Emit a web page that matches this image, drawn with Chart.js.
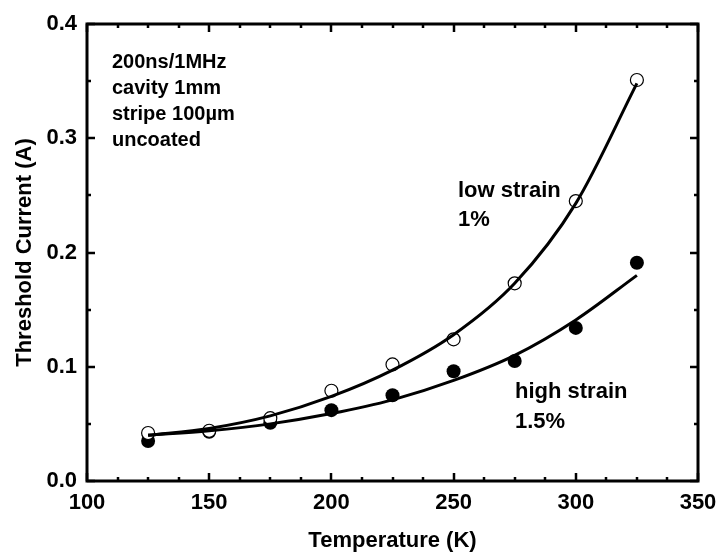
<!DOCTYPE html>
<html>
<head>
<meta charset="utf-8">
<script src="https://cdn.jsdelivr.net/npm/chart.js@4.4.1/dist/chart.umd.min.js"></script>
<style>
  html, body { margin: 0; padding: 0; background: #fff; }
  #wrap { width: 720px; height: 554px; position: relative; }
</style>
</head>
<body>
<div id="wrap"><canvas id="thresholdChart"></canvas></div>
<script>
// Measured threshold currents (A) vs. temperature (K)
const temperatures = [125, 150, 175, 200, 225, 250, 275, 300, 325];
const lowStrain = [0.042, 0.044, 0.055, 0.079, 0.102, 0.124, 0.173, 0.245, 0.351];
const highStrain = [0.035, 0.043, 0.051, 0.062, 0.075, 0.096, 0.105, 0.134, 0.191];

// Fitted curves through the same temperatures
const lowStrainFit = [0.040, 0.046, 0.057, 0.074, 0.097, 0.128, 0.173, 0.243, 0.348];
const highStrainFit = [0.040, 0.044, 0.050, 0.059, 0.071, 0.088, 0.110, 0.141, 0.180];

// Axis ranges and tick spacing
const xRange = [100, 350];
const yRange = [0, 0.4];
const xMajor = 50, xMinor = 12.5;
const yMajor = 0.1, yMinor = 0.05;

const conditions = ['200ns/1MHz', 'cavity 1mm', 'stripe 100\u00b5m', 'uncoated'];
const lowLabel = ['low strain', '1%'];
const highLabel = ['high strain', '1.5%'];

const FONT = '"Liberation Sans", Arial, Helvetica, sans-serif';

function points(ys) {
    return temperatures.map((t, i) => ({ x: t, y: ys[i] }));
}

// Box frame with inward ticks on all four sides, plus the text notes
const framePlugin = {
    id: 'frame',
    afterDraw(chart) {
        const ctx = chart.ctx;
        const a = chart.chartArea;
        const xs = chart.scales.x, ys = chart.scales.y;
        ctx.save();
        ctx.strokeStyle = '#000';
        ctx.lineCap = 'butt';

        ctx.lineWidth = 2.5;
        for (let v = xRange[0]; v <= xRange[1] + 1e-9; v += xMinor) {
            const px = Math.round(xs.getPixelForValue(v));
            const len = Math.abs(v % xMajor) < 1e-9 ? 8 : 4;
            ctx.beginPath();
            ctx.moveTo(px, a.bottom); ctx.lineTo(px, a.bottom - len);
            ctx.moveTo(px, a.top); ctx.lineTo(px, a.top + len);
            ctx.stroke();
        }
        for (let v = yRange[0]; v <= yRange[1] + 1e-9; v += yMinor) {
            const py = Math.round(ys.getPixelForValue(v));
            const major = Math.abs(v / yMajor - Math.round(v / yMajor)) < 1e-6;
            const len = major ? 8 : 4;
            ctx.beginPath();
            ctx.moveTo(a.left, py); ctx.lineTo(a.left + len, py);
            ctx.moveTo(a.right, py); ctx.lineTo(a.right - len, py);
            ctx.stroke();
        }

        ctx.lineWidth = 3;
        ctx.strokeRect(a.left, a.top, a.right - a.left, a.bottom - a.top);

        ctx.fillStyle = '#000';
        ctx.textAlign = 'left';
        ctx.textBaseline = 'alphabetic';
        ctx.font = 'bold 20px ' + FONT;
        conditions.forEach((s, i) => ctx.fillText(s, 112, 68 + i * 26));

        ctx.font = 'bold 22px ' + FONT;
        lowLabel.forEach((s, i) => ctx.fillText(s, 458, 197 + i * 29));
        highLabel.forEach((s, i) => ctx.fillText(s, 515, 398 + i * 30));
        ctx.restore();
    }
};

const ctx = document.getElementById('thresholdChart').getContext('2d');
new Chart(ctx, {
    type: 'scatter',
    data: {
        datasets: [
            {
                label: 'low strain fit',
                data: points(lowStrainFit),
                showLine: true,
                cubicInterpolationMode: 'monotone',
                borderColor: '#000',
                borderWidth: 3,
                pointRadius: 0,
                order: 0
            },
            {
                label: 'high strain fit',
                data: points(highStrainFit),
                showLine: true,
                cubicInterpolationMode: 'monotone',
                borderColor: '#000',
                borderWidth: 3,
                pointRadius: 0,
                order: 0
            },
            {
                label: 'low strain 1%',
                data: points(lowStrain),
                pointStyle: 'circle',
                pointRadius: 6.5,
                backgroundColor: '#fff',
                borderColor: '#000',
                borderWidth: 1.2,
                order: 1
            },
            {
                label: 'high strain 1.5%',
                data: points(highStrain),
                pointStyle: 'circle',
                pointRadius: 7,
                backgroundColor: '#000',
                borderColor: '#000',
                borderWidth: 0,
                order: 2
            }
        ]
    },
    options: {
        responsive: true,
        maintainAspectRatio: false,
        animation: false,
        layout: { padding: { top: 24, right: 22, left: 0, bottom: 0 } },
        plugins: {
            legend: { display: false },
            tooltip: { enabled: false }
        },
        scales: {
            x: {
                type: 'linear',
                min: xRange[0],
                max: xRange[1],
                grid: { display: false, drawTicks: false },
                border: { display: false },
                ticks: {
                    stepSize: xMajor,
                    padding: 11,
                    color: '#000',
                    maxRotation: 0,
                    font: { family: FONT, size: 22, weight: 'bold', lineHeight: 1 }
                },
                title: {
                    display: true,
                    text: 'Temperature (K)',
                    color: '#000',
                    padding: { top: 0, bottom: 2 },
                    font: { family: FONT, size: 22, weight: 'bold', lineHeight: 1 }
                },
                afterFit(scale) {
                    scale.height = 73;
                    scale.paddingLeft = 0;
                    scale.paddingRight = 0;
                }
            },
            y: {
                type: 'linear',
                min: yRange[0],
                max: yRange[1],
                grid: { display: false, drawTicks: false },
                border: { display: false },
                ticks: {
                    stepSize: yMajor,
                    padding: 10,
                    color: '#000',
                    callback: v => v.toFixed(1),
                    font: { family: FONT, size: 22, weight: 'bold', lineHeight: 1 }
                },
                title: {
                    display: true,
                    text: 'Threshold Current (A)',
                    color: '#000',
                    padding: { top: 14, bottom: 0 },
                    font: { family: FONT, size: 22, weight: 'bold', lineHeight: 1 }
                },
                afterFit(scale) {
                    scale.width = 87;
                    scale.paddingTop = 0;
                    scale.paddingBottom = 0;
                }
            }
        }
    },
    plugins: [framePlugin]
});
</script>
</body>
</html>
